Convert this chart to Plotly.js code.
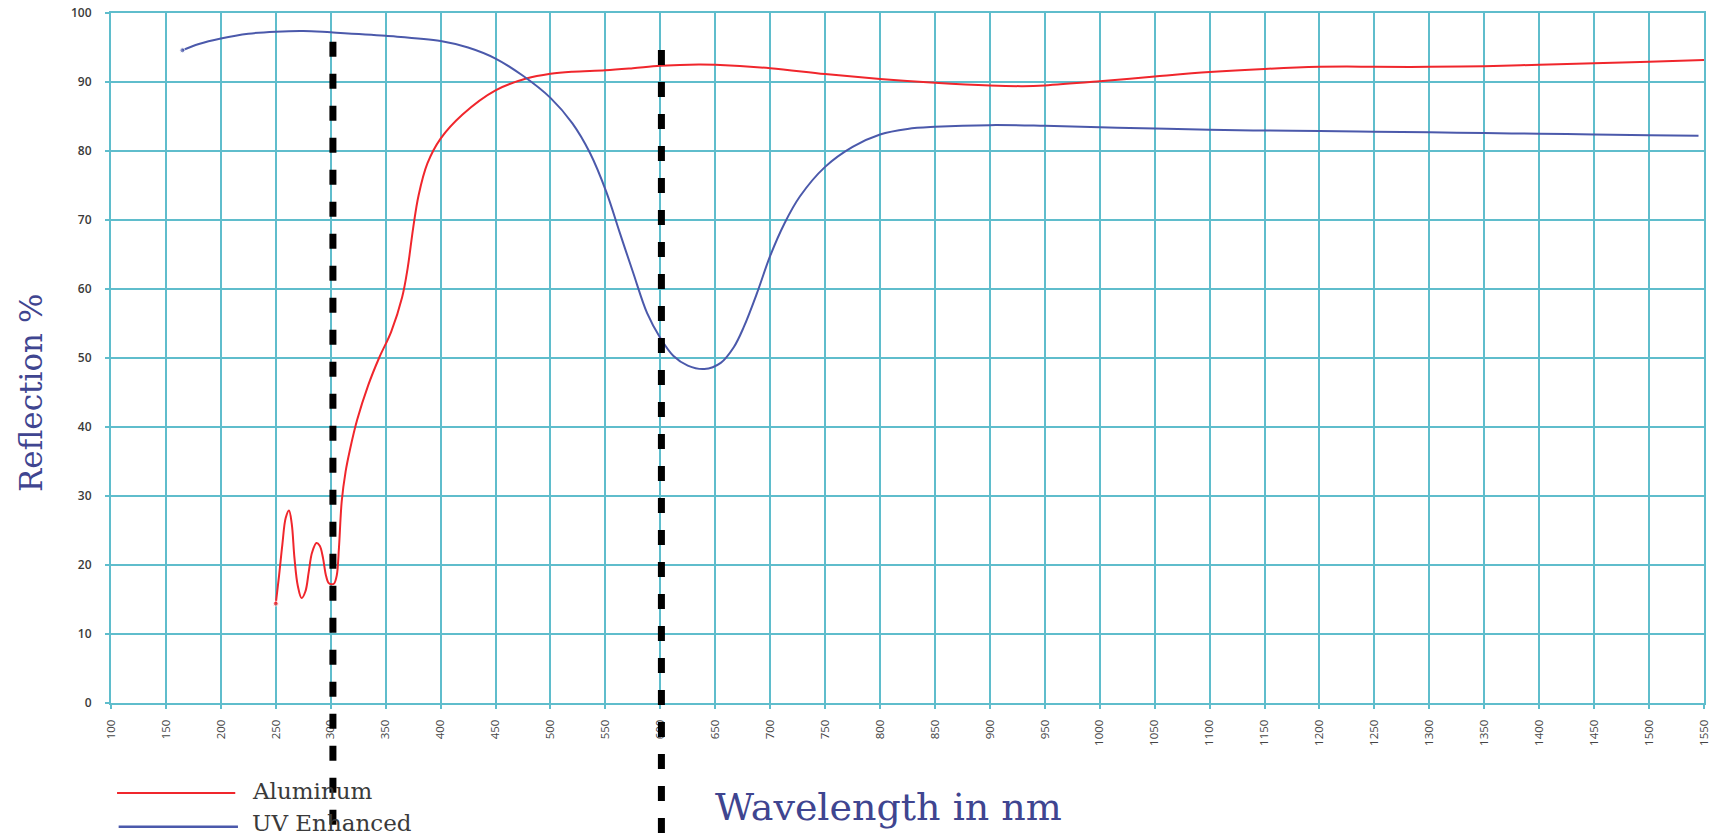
<!DOCTYPE html>
<html>
<head>
<meta charset="utf-8">
<script src="https://cdn.plot.ly/plotly-3.0.1.min.js"></script>
<style>
  html, body { margin: 0; padding: 0; background: #ffffff; }
  #chart { width: 1711px; height: 837px; }
</style>
</head>
<body>
<div id="chart"></div>
<script>
// ---- data ----
const seriesNames = ["Aluminum", "UV Enhanced"];

const wavelengthAluminum = [250, 253, 256, 259, 262, 264.5, 267, 270, 273.5, 277, 280, 283, 287, 290, 293, 295.5, 298, 300.5, 303, 305.5, 307.5, 310, 313.5, 317.5, 324, 334, 344, 355, 365, 370, 375, 380, 388, 400, 420, 450, 478, 500, 520, 550, 575, 600, 635, 650, 700, 750, 800, 850, 900, 930, 950, 1000, 1050, 1100, 1150, 1200, 1225, 1250, 1300, 1350, 1400, 1450, 1500, 1550];
const reflectionAluminum = [14.4, 18.5, 23, 26.8, 27.9, 26, 21, 17, 15.2, 16.2, 19, 21.8, 23.2, 22.8, 21, 18.6, 17.4, 17.2, 17.3, 18.5, 22.5, 29.2, 33.5, 36.7, 41, 46, 50, 53.8, 58.8, 63, 68.8, 73.6, 78.2, 81.8, 85.3, 88.8, 90.5, 91.2, 91.5, 91.7, 92.0, 92.35, 92.55, 92.5, 92.0, 91.15, 90.45, 89.9, 89.5, 89.4, 89.5, 90.1, 90.8, 91.45, 91.9, 92.2, 92.25, 92.2, 92.2, 92.3, 92.5, 92.7, 92.95, 93.2];

const wavelengthUV = [165, 180, 200, 225, 250, 275, 300, 350, 400, 425, 450, 475, 500, 520, 536, 551, 563, 575, 588, 600, 612, 625, 640, 655, 667, 676, 688, 700, 713, 727, 750, 775, 800, 825, 850, 900, 950, 1000, 1050, 1100, 1150, 1200, 1250, 1300, 1350, 1400, 1450, 1500, 1545];
const reflectionUV = [94.6, 95.5, 96.3, 97.0, 97.3, 97.4, 97.2, 96.7, 95.95, 95.0, 93.4, 90.9, 87.7, 84.0, 79.7, 74, 68.2, 62.5, 56.5, 52.9, 50.3, 48.9, 48.4, 49.3, 51.6, 54.5, 59.4, 64.8, 69.5, 73.4, 77.7, 80.6, 82.4, 83.2, 83.5, 83.75, 83.65, 83.45, 83.25, 83.07, 82.97, 82.9, 82.8, 82.7, 82.6, 82.5, 82.4, 82.3, 82.2];

const xTickValues = [100, 150, 200, 250, 300, 350, 400, 450, 500, 550, 600, 650, 700, 750, 800, 850, 900, 950, 1000, 1050, 1100, 1150, 1200, 1250, 1300, 1350, 1400, 1450, 1500, 1550];
const yTickValues = [0, 10, 20, 30, 40, 50, 60, 70, 80, 90, 100];

const markedWavelengths = [302, 601];   // heavy dashed guide lines
const xTitle = "Wavelength in nm";
const yTitle = "Reflection %";

// ---- styling ----
const RED = "#f0262c";
const BLUE = "#4b59ab";
const TEAL = "#5fbdcc";
const TITLE_BLUE = "#3f4590";
const SERIF = "DejaVu Serif, serif";

const firstDot = (arr) => arr.map((_, i) => (i === 0 ? 5 : 0));

const traces = [
  {
    x: wavelengthAluminum, y: reflectionAluminum, name: seriesNames[0],
    type: "scatter", mode: "lines+markers",
    line: { color: RED, width: 2, shape: "spline", smoothing: 1 },
    marker: { color: RED, size: firstDot(wavelengthAluminum) },
    showlegend: false
  },
  {
    x: wavelengthUV, y: reflectionUV, name: seriesNames[1],
    type: "scatter", mode: "lines+markers",
    line: { color: BLUE, width: 2, shape: "spline", smoothing: 1 },
    marker: { color: BLUE, size: firstDot(wavelengthUV) },
    showlegend: false
  }
];

const shapes = [];
const guideTops = [0.9584, 0.9464];
markedWavelengths.forEach((w, i) => {
  shapes.push({
    type: "line", xref: "x", yref: "paper",
    x0: w, x1: w, y0: guideTops[i], y1: -0.21,
    line: { color: "#000000", width: 7, dash: "15px,17px" },
    layer: "above"
  });
});
// custom legend keys
const legendColors = [RED, BLUE];
const legendY = [-0.1304, -0.1793];
const legendTextY = [-0.1275, -0.1739];
seriesNames.forEach((n, i) => {
  shapes.push({
    type: "line", xref: "paper", yref: "paper",
    x0: 0.0038 + i * 0.001, x1: 0.0780 + i * 0.0017, y0: legendY[i], y1: legendY[i],
    line: { color: legendColors[i], width: i === 0 ? 2 : 2.5 }
  });
});

const annotations = [
  {
    text: yTitle, xref: "paper", yref: "paper", x: -0.0502, y: 0.4493,
    xanchor: "center", yanchor: "middle", textangle: -90, showarrow: false,
    font: { family: SERIF, size: 31, color: TITLE_BLUE }
  },
  {
    text: xTitle, xref: "paper", yref: "paper", x: 0.488, y: -0.1507,
    xanchor: "center", yanchor: "middle", showarrow: false,
    font: { family: SERIF, size: 38, color: TITLE_BLUE }
  }
];
seriesNames.forEach((n, i) => {
  annotations.push({
    text: n, xref: "paper", yref: "paper", x: 0.0877, y: legendTextY[i],
    xanchor: "left", yanchor: "middle", showarrow: false, borderpad: 0,
    font: { family: SERIF, size: 23, color: "#3a3a3a" }
  });
});

const axisCommon = {
  showgrid: true, gridcolor: TEAL, gridwidth: 2,
  showline: true, linecolor: TEAL, linewidth: 2, mirror: true,
  ticks: "outside", ticklen: 4, tickwidth: 2, tickcolor: TEAL,
  zeroline: false, tickmode: "array", automargin: false
};

const layout = {
  width: 1711, height: 837,
  margin: { l: 111, r: 7, t: 13, b: 134, pad: 0 },
  paper_bgcolor: "#ffffff", plot_bgcolor: "#ffffff",
  showlegend: false,
  xaxis: Object.assign({}, axisCommon, {
    range: [100, 1550], tickvals: xTickValues, ticktext: xTickValues.map(String),
    tickangle: -90, ticklabelstandoff: 6,
    tickfont: { family: "Open Sans, sans-serif", size: 11.5, color: "#444444" }
  }),
  yaxis: Object.assign({}, axisCommon, {
    range: [0, 100], tickvals: yTickValues, ticktext: yTickValues.map(String),
    ticklabelstandoff: 11,
    tickfont: { family: "Open Sans, sans-serif", size: 12, color: "#3a3a3a", weight: 600 }
  }),
  shapes: shapes,
  annotations: annotations
};

Plotly.newPlot("chart", traces, layout, { staticPlot: true, displayModeBar: false });
</script>
</body>
</html>
